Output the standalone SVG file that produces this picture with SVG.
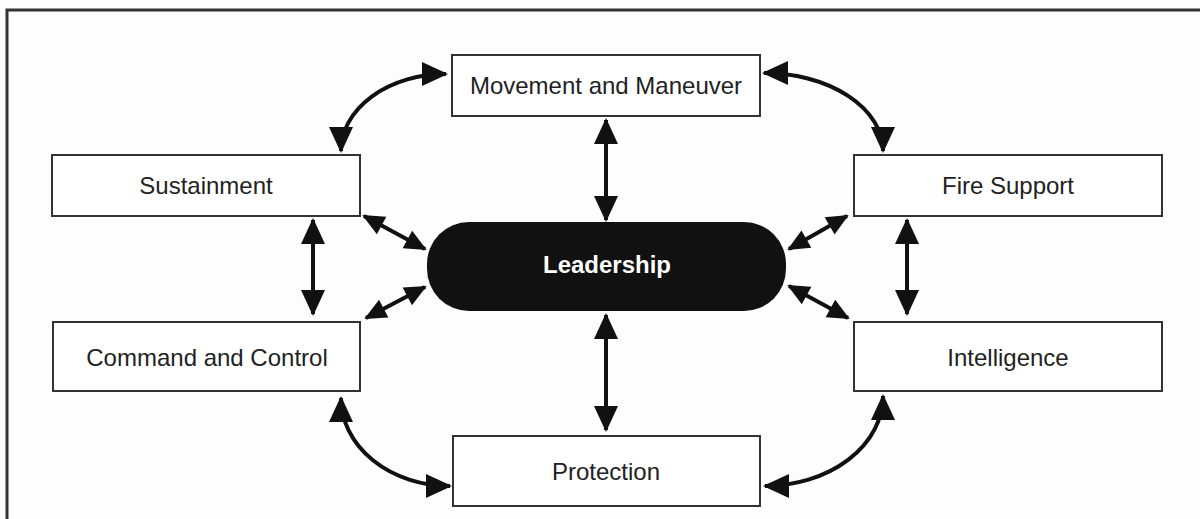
<svg xmlns="http://www.w3.org/2000/svg" width="1200" height="519" viewBox="0 0 1200 519">
<style>
.box{fill:#fff;stroke:#333;stroke-width:2}
.lbl{font-family:"Liberation Sans",Arial,sans-serif;font-size:24px;fill:#222;text-anchor:middle}
.lead{font-family:"Liberation Sans",Arial,sans-serif;font-size:24px;font-weight:bold;fill:#fff;text-anchor:middle}
.con{fill:none;stroke:#111;stroke-width:4}
.big{marker-start:url(#hb);marker-end:url(#hb)}
.sm{marker-start:url(#hs);marker-end:url(#hs)}
</style>
<defs>
<marker id="hb" markerUnits="userSpaceOnUse" markerWidth="28" markerHeight="26" refX="24" refY="12" orient="auto-start-reverse" overflow="visible">
<path d="M0,0 L26,12 L0,24 z" fill="#111"/>
</marker>
<marker id="hs" markerUnits="userSpaceOnUse" markerWidth="24" markerHeight="22" refX="20" refY="10" orient="auto-start-reverse" overflow="visible">
<path d="M0,0 L22,10 L0,20 z" fill="#111"/>
</marker>
</defs>
<rect x="0" y="0" width="1200" height="519" fill="#fdfdfd"/>
<path d="M7,519 L7,10 L1200,10" fill="none" stroke="#333" stroke-width="3"/>
<g id="connectors">
<path class="con big" d="M606,120 L606,220"/>
<path class="con big" d="M606,315 L606,430"/>
<path class="con big" d="M313,220 L313,314"/>
<path class="con big" d="M907,220 L907,314"/>
<path class="con sm" d="M364,216 L425,249"/>
<path class="con sm" d="M425,287 L366,318"/>
<path class="con sm" d="M789,249 L847,216"/>
<path class="con sm" d="M789,286 L848,318"/>
<path class="con big" d="M446,74 A105 77 0 0 0 341,151"/>
<path class="con big" d="M764,73 A119 78 0 0 1 883,151"/>
<path class="con big" d="M341,398 A109 88 0 0 0 450,486"/>
<path class="con big" d="M765,486 A118 90 0 0 0 883,396"/>
</g>
<g id="movement">
<rect class="box" x="452" y="55" width="308" height="61"/>
<text class="lbl" x="606" y="94">Movement and Maneuver</text>
</g>
<g id="sustainment">
<rect class="box" x="52" y="155" width="308" height="61"/>
<text class="lbl" x="206" y="194">Sustainment</text>
</g>
<g id="fire-support">
<rect class="box" x="854" y="155" width="308" height="61"/>
<text class="lbl" x="1008" y="194">Fire Support</text>
</g>
<g id="command-control">
<rect class="box" x="53" y="322" width="307" height="69"/>
<text class="lbl" x="207" y="366">Command and Control</text>
</g>
<g id="intelligence">
<rect class="box" x="854" y="322" width="308" height="69"/>
<text class="lbl" x="1008" y="366">Intelligence</text>
</g>
<g id="protection">
<rect class="box" x="453" y="436" width="307" height="70"/>
<text class="lbl" x="606" y="480">Protection</text>
</g>
<g id="leadership">
<rect x="427" y="222" width="359" height="89" rx="42" ry="42" fill="#111"/>
<text class="lead" x="607" y="273">Leadership</text>
</g>
</svg>
